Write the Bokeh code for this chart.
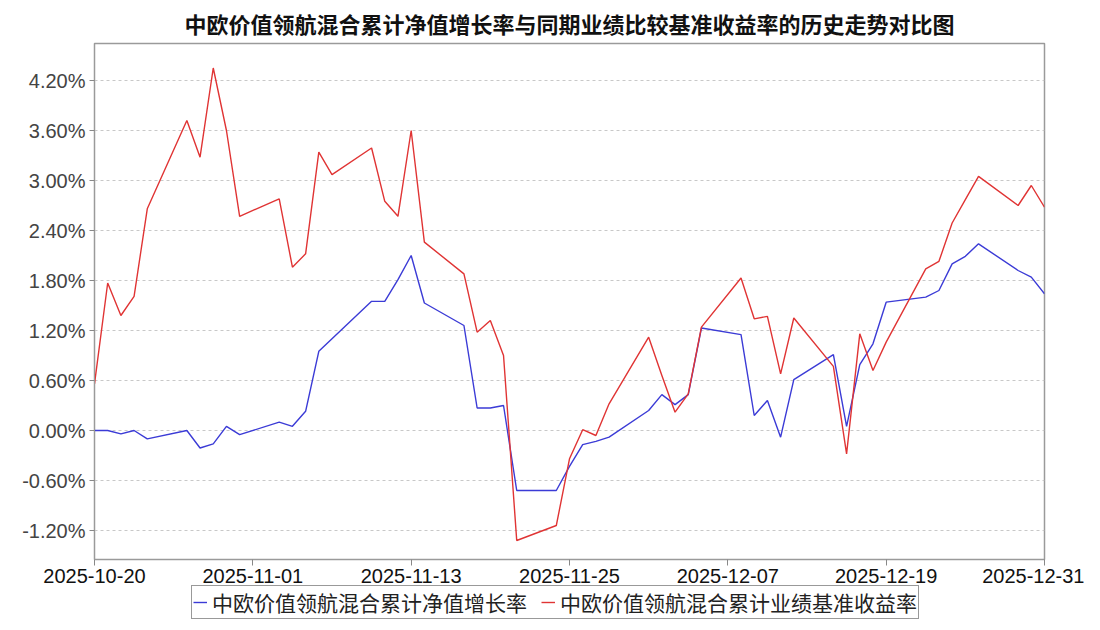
import pandas as pd
from bokeh.plotting import figure
from bokeh.layouts import column
from bokeh.models import (FixedTicker, PrintfTickFormatter, DatetimeTickFormatter,
                          Legend, LegendItem, Range1d, ColumnDataSource)
from bokeh.embed import file_html
from bokeh.resources import INLINE

# ---------------- data (values in %) ----------------
dates = [
    "2025-10-20", "2025-10-21", "2025-10-22", "2025-10-23", "2025-10-24",
    "2025-10-27", "2025-10-28", "2025-10-29", "2025-10-30", "2025-10-31",
    "2025-11-03", "2025-11-04", "2025-11-05", "2025-11-06", "2025-11-07",
    "2025-11-10", "2025-11-11", "2025-11-12", "2025-11-13", "2025-11-14",
    "2025-11-17", "2025-11-18", "2025-11-19", "2025-11-20", "2025-11-21",
    "2025-11-24", "2025-11-25", "2025-11-26", "2025-11-27", "2025-11-28",
    "2025-12-01", "2025-12-02", "2025-12-03", "2025-12-04", "2025-12-05",
    "2025-12-08", "2025-12-09", "2025-12-10", "2025-12-11", "2025-12-12",
    "2025-12-15", "2025-12-16", "2025-12-17", "2025-12-18", "2025-12-19",
    "2025-12-22", "2025-12-23", "2025-12-24", "2025-12-25", "2025-12-26",
    "2025-12-29", "2025-12-30", "2025-12-31",
]
nav_growth = [
    0.00, 0.00, -0.04, 0.00, -0.10,
    0.00, -0.21, -0.16, 0.05, -0.05,
    0.10, 0.05, 0.23, 0.95, 1.10,
    1.55, 1.55, 1.81, 2.10, 1.53,
    1.26, 0.27, 0.27, 0.30, -0.72,
    -0.72, -0.43, -0.17, -0.13, -0.08,
    0.24, 0.43, 0.31, 0.43, 1.23,
    1.15, 0.18, 0.36, -0.08, 0.61,
    0.91, 0.05, 0.79, 1.04, 1.54,
    1.60, 1.68, 2.00, 2.09, 2.24,
    1.92, 1.84, 1.64,
]
benchmark = [
    0.56, 1.77, 1.38, 1.61, 2.66,
    3.72, 3.28, 4.35, 3.60, 2.57,
    2.78, 1.96, 2.12, 3.34, 3.07,
    3.39, 2.75, 2.57, 3.60, 2.26,
    1.88, 1.18, 1.32, 0.90, -1.32,
    -1.14, -0.34, 0.01, -0.06, 0.32,
    1.12, 0.66, 0.22, 0.44, 1.24,
    1.83, 1.34, 1.37, 0.68, 1.35,
    0.77, -0.28, 1.16, 0.72, 1.06,
    1.94, 2.03, 2.49, 2.77, 3.05,
    2.70, 2.94, 2.68,
]
x_tick_labels = ["2025-10-20", "2025-11-01", "2025-11-13", "2025-11-25",
                 "2025-12-07", "2025-12-19", "2025-12-31"]
y_tick_values = [-1.2, -0.6, 0.0, 0.6, 1.2, 1.8, 2.4, 3.0, 3.6, 4.2]

title_text = "中欧价值领航混合累计净值增长率与同期业绩比较基准收益率的历史走势对比图"
label_nav = "中欧价值领航混合累计净值增长率"
label_bench = "中欧价值领航混合累计业绩基准收益率"

NAV_COLOR = "#3b3bd6"
BENCH_COLOR = "#e03434"

# ---------------- main figure ----------------
src = ColumnDataSource(dict(x=pd.to_datetime(dates), nav=nav_growth, bench=benchmark))
xt = pd.to_datetime(x_tick_labels)

p = figure(
    frame_width=950, frame_height=516,
    min_border_left=94, min_border_top=20, min_border_right=40, min_border_bottom=5,
    x_axis_type="datetime",
    x_range=Range1d(xt[0], xt[-1]),
    y_range=Range1d(-1.548, 4.644),
    output_backend="svg", toolbar_location=None,
    title=title_text,
)
p.background_fill_color = "white"
p.border_fill_color = "white"
p.outline_line_color = "#9a9a9a"
p.outline_line_width = 1.5

p.title.align = "center"
p.title.text_font = "Noto Sans CJK SC"
p.title.text_font_size = "22px"
p.title.text_font_style = "bold"
p.title.text_color = "#111111"
p.title.standoff = 9

p.xgrid.visible = False
p.ygrid.grid_line_color = "#c8c8c8"
p.ygrid.grid_line_dash = "3 3"
p.ygrid.grid_line_width = 1

p.yaxis.ticker = FixedTicker(ticks=y_tick_values)
p.yaxis.formatter = PrintfTickFormatter(format="%.2f%%")
p.yaxis.major_label_text_font = "Liberation Sans"
p.yaxis.major_label_text_font_size = "20px"
p.yaxis.major_label_text_color = "#444444"
p.yaxis.axis_line_color = "#9a9a9a"
p.yaxis.major_tick_line_color = "#888888"
p.yaxis.major_tick_out = 5
p.yaxis.major_tick_in = 0
p.yaxis.minor_tick_line_color = None
p.yaxis.major_label_standoff = 4

p.xaxis.ticker = FixedTicker(ticks=[int(t.value // 10**6) for t in xt])
fmt = "%Y-%m-%d"
p.xaxis.formatter = DatetimeTickFormatter(
    milliseconds=fmt, seconds=fmt, minsec=fmt, minutes=fmt, hourmin=fmt,
    hours=fmt, days=fmt, months=fmt, years=fmt)
p.xaxis.major_label_text_font = "Liberation Sans"
p.xaxis.major_label_text_font_size = "20px"
p.xaxis.major_label_text_color = "#111111"
p.xaxis.axis_line_color = "#9a9a9a"
p.xaxis.major_tick_line_color = "#888888"
p.xaxis.major_tick_out = 6
p.xaxis.major_tick_in = 0
p.xaxis.minor_tick_line_color = None
p.xaxis.major_label_standoff = 3

p.line("x", "nav", source=src, line_color=NAV_COLOR, line_width=1.4)
p.line("x", "bench", source=src, line_color=BENCH_COLOR, line_width=1.4)

# ---------------- legend strip (separate small figure) ----------------
# Same series drawn with a y-range that keeps them out of view: only the legend shows.
lf = figure(
    width=1084, height=34,
    x_axis_type="datetime",
    x_range=Range1d(xt[0], xt[-1]), y_range=Range1d(100, 101),
    x_axis_location=None, y_axis_location=None,
    min_border=0, min_border_left=0, min_border_right=0, min_border_top=0, min_border_bottom=0,
    output_backend="svg", toolbar_location=None,
)
lf.grid.visible = False
lf.outline_line_color = None
lf.background_fill_color = "white"
lf.border_fill_color = "white"
l_nav = lf.line("x", "nav", source=src, line_color=NAV_COLOR, line_width=1.4)
l_bench = lf.line("x", "bench", source=src, line_color=BENCH_COLOR, line_width=1.4)

legend = Legend(
    items=[LegendItem(label=label_nav, renderers=[l_nav]),
           LegendItem(label=label_bench, renderers=[l_bench])],
    orientation="horizontal",
    location=(97, 0),
    label_text_font="Noto Sans CJK SC",
    label_text_font_size="21px",
    label_text_color="#222222",
    label_standoff=5,
    label_height=18,
    glyph_width=14,
    glyph_height=16,
    spacing=14,
    padding=1,
    margin=0,
    border_line_color="#333333",
    border_line_width=1.5,
    background_fill_color="white",
    background_fill_alpha=1.0,
)
lf.add_layout(legend)

layout = column(p, lf, spacing=0)
open("out.html", "w").write(file_html(layout, INLINE))
